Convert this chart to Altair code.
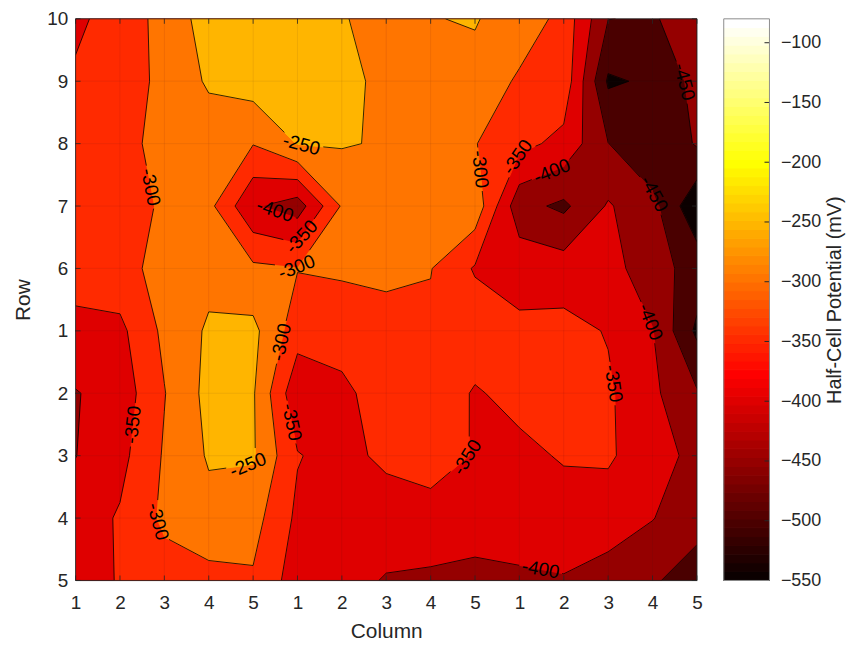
import json
import math

import altair as alt
import pandas as pd

# ---------------------------------------------------------------- data
column_labels = ["1", "2", "3", "4", "5", "1", "2", "3", "4", "5", "1", "2", "3", "4", "5"]
row_labels = ["10", "9", "8", "7", "6", "1", "2", "3", "4", "5"]

# half-cell potential (mV), one list per row, top row (10) first
row_10 = [-365, -317, -290, -223, -215, -220, -245, -276, -251, -248, -265, -318, -449, -455, -423]
row_9 = [-339, -320, -290, -243, -227, -220, -235, -263, -270, -259, -309, -317, -507, -492, -433]
row_8 = [-335, -320, -280, -280, -298, -248, -246, -255, -275, -298, -335, -365, -449, -495, -445]
row_7 = [-330, -320, -294, -286, -394, -425, -295, -280, -275, -267, -434, -460, -395, -435, -540]
row_6 = [-335, -318, -282, -266, -290, -298, -295, -288, -298, -355, -366, -376, -380, -430, -470]
row_1 = [-360, -362, -289, -243, -237, -328, -320, -320, -310, -319, -342, -335, -353, -398, -510]
row_2 = [-403, -378, -302, -235, -245, -388, -366, -316, -316, -355, -334, -335, -343, -390, -445]
row_3 = [-401, -365, -295, -245, -245, -347, -370, -336, -330, -353, -363, -345, -342, -385, -410]
row_4 = [-376, -345, -290, -266, -281, -360, -375, -385, -368, -370, -375, -375, -380, -398, -435]
row_5 = [-370, -347, -323, -316, -306, -375, -390, -402, -409, -418, -408, -403, -417, -445, -470]

potential = [row_10, row_9, row_8, row_7, row_6, row_1, row_2, row_3, row_4, row_5]

contour_levels = [-500, -450, -400, -350, -300, -250, -200]
color_limits = [-550, -80]
colorbar_ticks = [-550, -500, -450, -400, -350, -300, -250, -200, -150, -100]

# ---------------------------------------------------------------- style
PLOT_W, PLOT_H = 625, 565
FONT = "Liberation Sans"
INK = "#262626"
TICK_FONT = 19
TITLE_FONT = 21
LABEL_FONT = 19
LABEL_SPACING = 330
MIN_LABEL_PATH = 80
GAP = 22

NR, NC = len(potential), len(potential[0])
SX = PLOT_W / (NC - 1)
SY = PLOT_H / (NR - 1)


# ---------------------------------------------------------------- MATLAB "hot" colormap
def hot_hex(index):
    k = index + 1
    r = min(k / 24.0, 1.0)
    g = min(max((k - 24) / 24.0, 0.0), 1.0)
    b = min(max((k - 48) / 16.0, 0.0), 1.0)
    return "#{:02x}{:02x}{:02x}".format(round(r * 255), round(g * 255), round(b * 255))


def level_color(v):
    lo, hi = color_limits
    k = int(math.floor((v - lo) / (hi - lo) * 64))
    return hot_hex(max(0, min(63, k)))


# ---------------------------------------------------------------- marching squares
CORNERS = [(0, 0), (1, 0), (1, 1), (0, 1)]  # TL, TR, BR, BL


def val(i, j):
    return potential[j][i]


def edge_key(i, j, k):
    if k == 0:
        return ("h", i, j)
    if k == 1:
        return ("v", i + 1, j)
    if k == 2:
        return ("h", i, j + 1)
    return ("v", i, j)


def crossing(key, L):
    kind, i, j = key
    a = (i, j)
    b = (i + 1, j) if kind == "h" else (i, j + 1)
    va, vb = val(*a), val(*b)
    t = (L - va) / (vb - va)
    return (a[0] + t * (b[0] - a[0]), a[1] + t * (b[1] - a[1]))


def cell_info(i, j, L):
    cs = [(i + di, j + dj) for di, dj in CORNERS]
    vs = [val(*c) for c in cs]
    hi = [v >= L for v in vs]
    edges = [k for k in range(4) if hi[k] != hi[(k + 1) % 4]]
    return cs, vs, hi, edges


def fill_polys(i, j, L):
    cs, vs, hi, edges = cell_info(i, j, L)
    if not any(hi):
        return []
    if len(edges) == 4 and sum(vs) / 4.0 < L:
        polys = []
        for k in range(4):
            if hi[k]:
                polys.append([crossing(edge_key(i, j, (k - 1) % 4), L), cs[k],
                              crossing(edge_key(i, j, k), L)])
        return polys
    pts = []
    for k in range(4):
        if hi[k]:
            pts.append(cs[k])
        if hi[k] != hi[(k + 1) % 4]:
            pts.append(crossing(edge_key(i, j, k), L))
    return [pts]


def cell_segments(i, j, L):
    cs, vs, hi, edges = cell_info(i, j, L)
    if len(edges) == 2:
        return [(edge_key(i, j, edges[0]), edge_key(i, j, edges[1]))]
    if len(edges) == 4:
        center_high = sum(vs) / 4.0 >= L
        return [(edge_key(i, j, (k - 1) % 4), edge_key(i, j, k))
                for k in range(4) if hi[k] != center_high]
    return []


def join(segs):
    adj = {}
    for idx, (a, b) in enumerate(segs):
        adj.setdefault(a, []).append(idx)
        adj.setdefault(b, []).append(idx)
    used = [False] * len(segs)
    paths = []
    starts = [k for k, v in adj.items() if len(v) == 1] + list(adj.keys())
    for s in starts:
        for idx in adj[s]:
            if used[idx]:
                continue
            path, cur, ci = [s], s, idx
            while ci is not None:
                used[ci] = True
                a, b = segs[ci]
                cur = b if a == cur else a
                path.append(cur)
                ci = next((n for n in adj[cur] if not used[n]), None)
            paths.append(path)
    return paths


def point_at(px, cum, s):
    for m in range(1, len(px)):
        if cum[m] >= s:
            seg = cum[m] - cum[m - 1]
            t = 0.0 if seg == 0 else (s - cum[m - 1]) / seg
            return (px[m - 1][0] + t * (px[m][0] - px[m - 1][0]),
                    px[m - 1][1] + t * (px[m][1] - px[m - 1][1]))
    return px[-1]


# filled bands (painted from low to high level)
fill_layers = []
for L in contour_levels:
    rows, pid = [], 0
    for j in range(NR - 1):
        for i in range(NC - 1):
            for poly in fill_polys(i, j, L):
                for k, (x, y) in enumerate(poly):
                    rows.append({"pid": pid, "k": k, "x": x, "y": y})
                pid += 1
    if rows:
        fill_layers.append((level_color(L), pd.DataFrame(rows)))

# contour lines with gaps for inline labels
line_rows, label_rows, lid = [], [], 0
for L in contour_levels:
    segs = []
    for j in range(NR - 1):
        for i in range(NC - 1):
            segs += cell_segments(i, j, L)
    for path in join(segs):
        px = [(x * SX, y * SY) for x, y in (crossing(k, L) for k in path)]
        cum = [0.0]
        for a, b in zip(px, px[1:]):
            cum.append(cum[-1] + math.dist(a, b))
        total = cum[-1]
        centers = []
        if total >= MIN_LABEL_PATH:
            n = max(1, int(total / LABEL_SPACING + 0.5))
            centers = [(c + 0.5) * total / n for c in range(n)]
        keep, start = [], 0.0
        for c in centers:
            keep.append((start, max(start, c - GAP)))
            start = c + GAP
        keep.append((start, total))
        for a, b in keep:
            if b - a <= 0.5:
                continue
            sub = [point_at(px, cum, a)] + [px[m] for m in range(len(px)) if a < cum[m] < b] + [point_at(px, cum, b)]
            for k, (xx, yy) in enumerate(sub):
                line_rows.append({"pid": lid, "k": k, "x": xx / SX, "y": yy / SY})
            lid += 1
        for c in centers:
            cx, cy = point_at(px, cum, c)
            p1 = point_at(px, cum, max(0.0, c - 10))
            p2 = point_at(px, cum, min(total, c + 10))
            ang = math.degrees(math.atan2(p2[1] - p1[1], p2[0] - p1[0]))
            if ang > 90:
                ang -= 180
            if ang <= -90:
                ang += 180
            label_rows.append({"x": cx / SX, "y": cy / SY, "text": str(L), "angle": ang % 360})

lines_df = pd.DataFrame(line_rows)
labels_df = pd.DataFrame(label_rows)

# ---------------------------------------------------------------- encodings
x_scale = alt.Scale(domain=[0, NC - 1], nice=False, zero=False, padding=0)
y_scale = alt.Scale(domain=[0, NR - 1], nice=False, zero=False, padding=0, reverse=True)

common_axis = dict(ticks=False, domain=False, grid=False, labelFlush=False, labelOverlap=False,
                   labelFontSize=TICK_FONT, titleFontSize=TITLE_FONT, labelFont=FONT, titleFont=FONT,
                   labelColor=INK, titleColor=INK, titleFontWeight="normal")
x_axis = alt.Axis(values=list(range(NC)), labelExpr=json.dumps(column_labels) + "[datum.value]",
                  title="Column", labelPadding=13, titlePadding=8, **common_axis)
y_axis = alt.Axis(values=list(range(NR)), labelExpr=json.dumps(row_labels) + "[datum.value]",
                  title="Row", labelPadding=8, titlePadding=13, **common_axis)


def X(field="x"):
    return alt.X(f"{field}:Q", scale=x_scale, axis=x_axis)


def Y(field="y"):
    return alt.Y(f"{field}:Q", scale=y_scale, axis=y_axis)


base_df = pd.DataFrame({"x": [0], "x2": [NC - 1], "y": [0], "y2": [NR - 1]})
base = alt.Chart(base_df).mark_rect(fill=level_color(color_limits[0]), clip=True).encode(
    x=X(), x2="x2:Q", y=Y(), y2="y2:Q")

layers = [base]
for color, df in fill_layers:
    layers.append(
        alt.Chart(df).mark_line(fill=color, stroke=color, strokeWidth=1, clip=True, interpolate="linear")
        .encode(x=X(), y=Y(), detail="pid:N", order="k:Q"))

xt = pd.DataFrame({"x": list(range(NC))})
yt = pd.DataFrame({"y": list(range(NR))})
layers.append(alt.Chart(xt).mark_rule(color=INK, opacity=0.13, strokeWidth=0.6).encode(x=X()))
layers.append(alt.Chart(yt).mark_rule(color=INK, opacity=0.13, strokeWidth=0.6).encode(y=Y()))

layers.append(
    alt.Chart(lines_df).mark_line(stroke="black", strokeWidth=0.8, clip=True, interpolate="linear")
    .encode(x=X(), y=Y(), detail="pid:N", order="k:Q"))
layers.append(
    alt.Chart(labels_df).mark_text(font=FONT, fontSize=LABEL_FONT, color="black", align="center",
                                   baseline="middle")
    .encode(x=X(), y=Y(), text="text:N", angle=alt.Angle("angle:Q", scale=None)))

TL = 5
layers.append(alt.Chart(xt).mark_rule(color=INK, strokeWidth=0.8).encode(
    x=X(), y=alt.value(PLOT_H), y2=alt.value(PLOT_H - TL)))
layers.append(alt.Chart(xt).mark_rule(color=INK, strokeWidth=0.8).encode(
    x=X(), y=alt.value(0), y2=alt.value(TL)))
layers.append(alt.Chart(yt).mark_rule(color=INK, strokeWidth=0.8).encode(
    y=Y(), x=alt.value(0), x2=alt.value(TL)))
layers.append(alt.Chart(yt).mark_rule(color=INK, strokeWidth=0.8).encode(
    y=Y(), x=alt.value(PLOT_W), x2=alt.value(PLOT_W - TL)))
layers.append(alt.Chart(base_df).mark_rect(fill=None, stroke=INK, strokeWidth=0.8).encode(
    x=alt.value(0), x2=alt.value(PLOT_W), y=alt.value(0), y2=alt.value(PLOT_H)))

main = alt.layer(*layers)

# ---------------------------------------------------------------- colorbar
CB_X0, CB_X1 = 652, 698
lo, hi = color_limits
cb_df = pd.DataFrame({
    "lo": [lo + k * (hi - lo) / 64 for k in range(64)],
    "hi": [lo + (k + 1) * (hi - lo) / 64 for k in range(64)],
    "color": [hot_hex(k) for k in range(64)],
})
cb_scale = alt.Scale(domain=color_limits, nice=False, zero=False)
cb_axis = alt.Axis(orient="right", offset=CB_X1 - PLOT_W, values=colorbar_ticks, ticks=False,
                   domain=False, grid=False, labelFontSize=TICK_FONT - 1, labelPadding=11,
                   labelOverlap=False, labelFlush=False, labelFont=FONT, labelColor=INK,
                   title="Half-Cell Potential (mV)", titleFont=FONT, titleColor=INK,
                   titleFontWeight="normal", titleFontSize=TITLE_FONT - 1, titleAngle=270,
                   titlePadding=24)
cb_rects = alt.Chart(cb_df).mark_rect(strokeWidth=1).encode(
    x=alt.value(CB_X0), x2=alt.value(CB_X1),
    y=alt.Y("lo:Q", scale=cb_scale, axis=cb_axis), y2="hi:Q",
    fill=alt.Fill("color:N", scale=None), stroke=alt.Stroke("color:N", scale=None))
cb_tick_df = pd.DataFrame({"v": colorbar_ticks})
cb_ticks = alt.Chart(cb_tick_df).mark_rule(color=INK, strokeWidth=1).encode(
    y=alt.Y("v:Q", scale=cb_scale, axis=cb_axis), x=alt.value(CB_X1 - 5), x2=alt.value(CB_X1))
cb_frame = alt.Chart(base_df).mark_rect(fill=None, stroke="#8c8c8c", strokeWidth=1).encode(
    x=alt.value(CB_X0), x2=alt.value(CB_X1), y=alt.value(0), y2=alt.value(PLOT_H))
colorbar = alt.layer(cb_rects, cb_ticks, cb_frame)

chart = (
    alt.layer(main, colorbar)
    .resolve_scale(y="independent")
    .properties(width=PLOT_W, height=PLOT_H,
                autosize=alt.AutoSizeParams(type="none"),
                padding={"left": 68, "top": 9, "right": 152, "bottom": 60})
    .configure_view(stroke=None)
    .configure(background="white")
)

chart.save("out.html", embed_options={"renderer": "svg", "actions": False})
